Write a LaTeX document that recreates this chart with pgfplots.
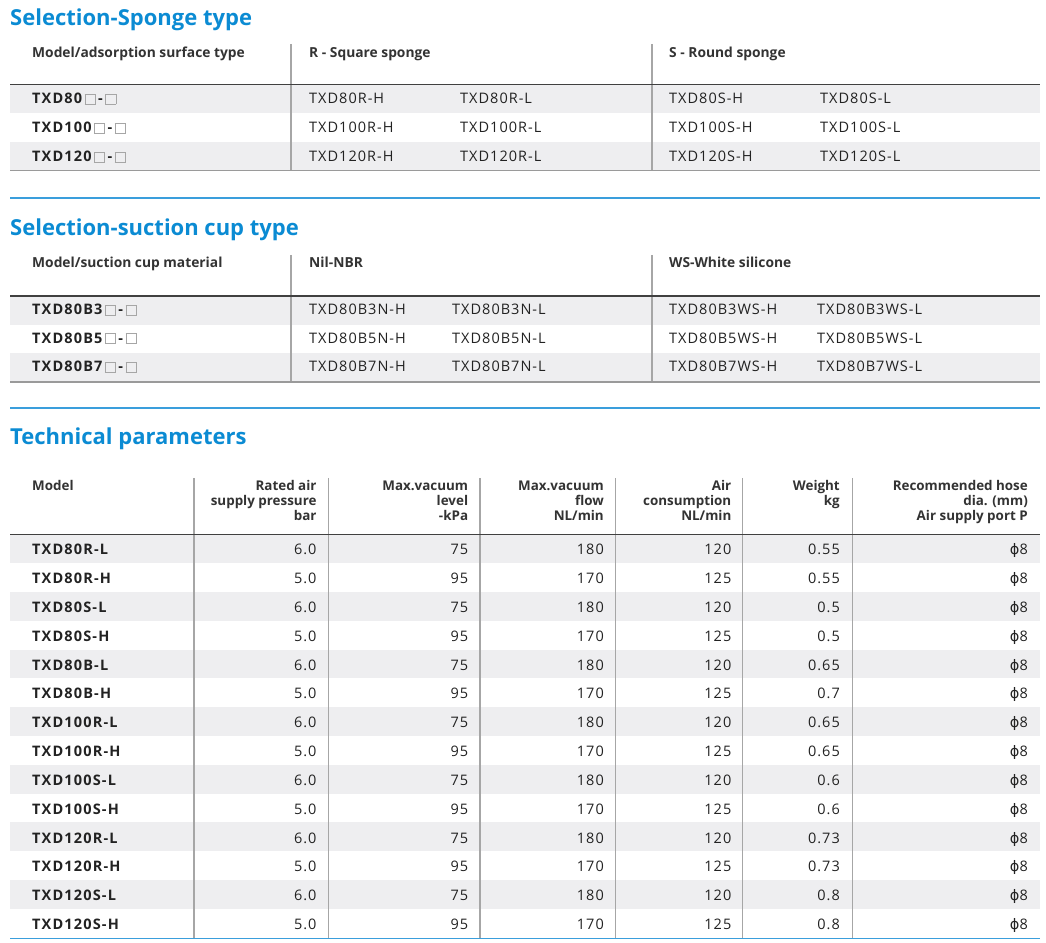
\documentclass[border=0pt]{standalone}
\usepackage{pgfplots}
\usepackage{pgfplotstable}
\pgfplotsset{compat=1.18}
\usepackage{fontspec}
\setmainfont{Open Sans}
\newfontfamily\symfont{DejaVu Sans}
\definecolor{tblue}{HTML}{0B8BD3}
\definecolor{lblue}{HTML}{3A9EDC}
\definecolor{rowgray}{HTML}{EEEEF0}
\definecolor{txt}{HTML}{222222}
\definecolor{htxt}{HTML}{333333}
\definecolor{vline}{HTML}{A6A6A6}
\definecolor{hline}{HTML}{404040}
\definecolor{bline}{HTML}{9A9A9A}
\newcommand{\bx}{\,{\color{gray!70}\fboxsep0pt\fboxrule0.8pt\fbox{\rule{0pt}{9.5pt}\hspace{9.5pt}}}\,}
\newcommand{\phisym}{{\symfont ϕ}}
\newcommand{\titlefont}{\fontsize{22}{26}\selectfont\bfseries}
\newcommand{\headfont}{\fontsize{13.8}{16}\selectfont\bfseries}
\newcommand{\thfont}{\fontsize{13.4}{14.9}\selectfont\bfseries}
\newcommand{\datafont}{\fontsize{14.5}{17}\selectfont\addfontfeatures{LetterSpace=7}}
\newcommand{\modelfont}{\fontsize{14.5}{17}\selectfont\bfseries\addfontfeatures{LetterSpace=8}}

\pgfplotstableread{
model     rated level flow cons weight hose
TXD80R-L  6.0   75    180  120  0.55   \phisym8
TXD80R-H  5.0   95    170  125  0.55   \phisym8
TXD80S-L  6.0   75    180  120  0.5    \phisym8
TXD80S-H  5.0   95    170  125  0.5    \phisym8
TXD80B-L  6.0   75    180  120  0.65   \phisym8
TXD80B-H  5.0   95    170  125  0.7    \phisym8
TXD100R-L 6.0   75    180  120  0.65   \phisym8
TXD100R-H 5.0   95    170  125  0.65   \phisym8
TXD100S-L 6.0   75    180  120  0.6    \phisym8
TXD100S-H 5.0   95    170  125  0.6    \phisym8
TXD120R-L 6.0   75    180  120  0.73   \phisym8
TXD120R-H 5.0   95    170  125  0.73   \phisym8
TXD120S-L 6.0   75    180  120  0.8    \phisym8
TXD120S-H 5.0   95    170  125  0.8    \phisym8
}\params

\begin{document}
\begin{tikzpicture}
\begin{axis}[
  x=1pt, y=1pt, y dir=reverse,
  xmin=0, xmax=1046, ymin=0, ymax=942,
  scale only axis, hide axis, clip=false, set layers,
  nodes near coords, point meta=explicit symbolic,
]
\path (axis cs:0,0) rectangle (axis cs:1046,942);

% ---------- Section 1 ----------
\node[anchor=base west, inner sep=0, text=tblue, font=\titlefont] at (axis cs:10,26) {Selection-Sponge type};
\fill[rowgray, on layer=axis background] (axis cs:10,84.5) rectangle (axis cs:1040,113);
\fill[rowgray, on layer=axis background] (axis cs:10,142) rectangle (axis cs:1040,170.5);
\draw[vline, line width=1.2pt] (axis cs:291,44) -- (axis cs:291,170.5);
\draw[vline, line width=1.2pt] (axis cs:652,44) -- (axis cs:652,170.5);
\draw[hline, line width=1.3pt] (axis cs:10,84.5) -- (axis cs:1040,84.5);
\draw[bline, line width=1.2pt] (axis cs:10,170.5) -- (axis cs:1040,170.5);
\draw[lblue, line width=1.4pt] (axis cs:10,198) -- (axis cs:1040,198);
\begin{scope}[every node/.style={anchor=base west, inner sep=0, text=txt}]
\node[font=\headfont, text=htxt] at (axis cs:32,57.5) {Model/adsorption surface type};
\node[font=\headfont, text=htxt] at (axis cs:309,57.5) {R - Square sponge};
\node[font=\headfont, text=htxt] at (axis cs:669,57.5) {S - Round sponge};
\node[font=\modelfont] at (axis cs:32,104) {TXD80\bx-\bx};
\node[font=\modelfont] at (axis cs:32,133) {TXD100\bx-\bx};
\node[font=\modelfont] at (axis cs:32,162) {TXD120\bx-\bx};
\node[font=\datafont] at (axis cs:309,104) {TXD80R-H};
\node[font=\datafont] at (axis cs:309,133) {TXD100R-H};
\node[font=\datafont] at (axis cs:309,162) {TXD120R-H};
\node[font=\datafont] at (axis cs:460,104) {TXD80R-L};
\node[font=\datafont] at (axis cs:460,133) {TXD100R-L};
\node[font=\datafont] at (axis cs:460,162) {TXD120R-L};
\node[font=\datafont] at (axis cs:669,104) {TXD80S-H};
\node[font=\datafont] at (axis cs:669,133) {TXD100S-H};
\node[font=\datafont] at (axis cs:669,162) {TXD120S-H};
\node[font=\datafont] at (axis cs:820,104) {TXD80S-L};
\node[font=\datafont] at (axis cs:820,133) {TXD100S-L};
\node[font=\datafont] at (axis cs:820,162) {TXD120S-L};
\end{scope}

% ---------- Section 2 ----------
\node[anchor=base west, inner sep=0, text=tblue, font=\titlefont] at (axis cs:10,236) {Selection-suction cup type};
\fill[rowgray, on layer=axis background] (axis cs:10,296) rectangle (axis cs:1040,325);
\fill[rowgray, on layer=axis background] (axis cs:10,353.5) rectangle (axis cs:1040,382);
\draw[vline, line width=1.2pt] (axis cs:291,255) -- (axis cs:291,382);
\draw[vline, line width=1.2pt] (axis cs:652,255) -- (axis cs:652,382);
\draw[hline, line width=1.3pt] (axis cs:10,296) -- (axis cs:1040,296);
\draw[bline, line width=1.2pt] (axis cs:10,382) -- (axis cs:1040,382);
\draw[lblue, line width=1.4pt] (axis cs:10,408) -- (axis cs:1040,408);
\begin{scope}[every node/.style={anchor=base west, inner sep=0, text=txt}]
\node[font=\headfont, text=htxt] at (axis cs:32,268) {Model/suction cup material};
\node[font=\headfont, text=htxt] at (axis cs:309,268) {Nil-NBR};
\node[font=\headfont, text=htxt] at (axis cs:669,268) {WS-White silicone};
\node[font=\modelfont] at (axis cs:32,315) {TXD80B3\bx-\bx};
\node[font=\modelfont] at (axis cs:32,343.5) {TXD80B5\bx-\bx};
\node[font=\modelfont] at (axis cs:32,372) {TXD80B7\bx-\bx};
\node[font=\datafont] at (axis cs:309,315) {TXD80B3N-H};
\node[font=\datafont] at (axis cs:309,343.5) {TXD80B5N-H};
\node[font=\datafont] at (axis cs:309,372) {TXD80B7N-H};
\node[font=\datafont] at (axis cs:452,315) {TXD80B3N-L};
\node[font=\datafont] at (axis cs:452,343.5) {TXD80B5N-L};
\node[font=\datafont] at (axis cs:452,372) {TXD80B7N-L};
\node[font=\datafont] at (axis cs:669,315) {TXD80B3WS-H};
\node[font=\datafont] at (axis cs:669,343.5) {TXD80B5WS-H};
\node[font=\datafont] at (axis cs:669,372) {TXD80B7WS-H};
\node[font=\datafont] at (axis cs:817,315) {TXD80B3WS-L};
\node[font=\datafont] at (axis cs:817,343.5) {TXD80B5WS-L};
\node[font=\datafont] at (axis cs:817,372) {TXD80B7WS-L};
\end{scope}

% ---------- Section 3 ----------
\node[anchor=base west, inner sep=0, text=tblue, font=\titlefont] at (axis cs:10,445) {Technical parameters};
\fill[rowgray, on layer=axis background] (axis cs:10,534.5) rectangle (axis cs:1040,563.3);
\fill[rowgray, on layer=axis background] (axis cs:10,592.1) rectangle (axis cs:1040,620.9);
\fill[rowgray, on layer=axis background] (axis cs:10,649.7) rectangle (axis cs:1040,678.5);
\fill[rowgray, on layer=axis background] (axis cs:10,707.3) rectangle (axis cs:1040,736.1);
\fill[rowgray, on layer=axis background] (axis cs:10,764.9) rectangle (axis cs:1040,793.7);
\fill[rowgray, on layer=axis background] (axis cs:10,822.5) rectangle (axis cs:1040,851.3);
\fill[rowgray, on layer=axis background] (axis cs:10,880.1) rectangle (axis cs:1040,908.9);
\draw[vline, line width=1.2pt] (axis cs:194,478) -- (axis cs:194,938);
\draw[vline, line width=1.2pt] (axis cs:328.3,478) -- (axis cs:328.3,938);
\draw[vline, line width=1.2pt] (axis cs:480,478) -- (axis cs:480,938);
\draw[vline, line width=1.2pt] (axis cs:615.5,478) -- (axis cs:615.5,938);
\draw[vline, line width=1.2pt] (axis cs:742.6,478) -- (axis cs:742.6,938);
\draw[vline, line width=1.2pt] (axis cs:852.8,478) -- (axis cs:852.8,938);
\draw[hline, line width=1.3pt] (axis cs:10,534.5) -- (axis cs:1040,534.5);
\draw[lblue, line width=1.4pt] (axis cs:10,938.5) -- (axis cs:1040,938.5);
\begin{scope}[every node/.style={inner sep=0, text=htxt, font=\thfont, align=right}]
\node[anchor=base west] at (axis cs:32,490.3) {Model};
\node[anchor=base east] at (axis cs:316.7,520.1) {Rated air\\supply pressure\\bar};
\node[anchor=base east] at (axis cs:468.3,520.1) {Max.vacuum\\level\\-kPa};
\node[anchor=base east] at (axis cs:604,520.1) {Max.vacuum\\flow\\NL/min};
\node[anchor=base east] at (axis cs:731.5,520.1) {Air\\consumption\\NL/min};
\node[anchor=base east] at (axis cs:840,505.2) {Weight\\kg};
\node[anchor=base east] at (axis cs:1028,520.1) {Recommended hose\\dia. (mm)\\Air supply port P};
\end{scope}

\pgfplotsset{nodes near coords style={anchor=base east, inner sep=0pt, text=txt, font=\datafont}}
\addplot[draw=none, mark=none, nodes near coords style={anchor=base west, font=\modelfont}] table[x expr=32, y expr=555+28.8*\coordindex, meta=model] {\params};
\addplot[draw=none, mark=none] table[x expr=316.7, y expr=555+28.8*\coordindex, meta=rated] {\params};
\addplot[draw=none, mark=none] table[x expr=468.3, y expr=555+28.8*\coordindex, meta=level] {\params};
\addplot[draw=none, mark=none] table[x expr=604, y expr=555+28.8*\coordindex, meta=flow] {\params};
\addplot[draw=none, mark=none] table[x expr=731.5, y expr=555+28.8*\coordindex, meta=cons] {\params};
\addplot[draw=none, mark=none] table[x expr=840, y expr=555+28.8*\coordindex, meta=weight] {\params};
\addplot[draw=none, mark=none] table[x expr=1028, y expr=555+28.8*\coordindex, meta=hose] {\params};
\end{axis}
\end{tikzpicture}
\end{document}
